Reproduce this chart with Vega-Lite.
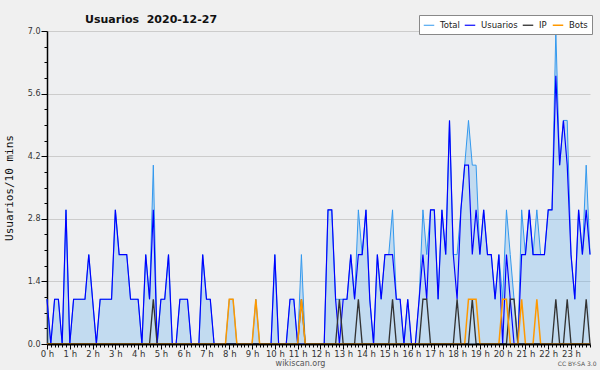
{
"$schema": "https://vega.github.io/schema/vega-lite/v6.json",
"width": 543, "height": 313,
"autosize": {"type": "none"},
"padding": {"left": 47, "top": 31, "right": 10, "bottom": 26},
"background": "#f0f0f0",
"config": {"view": {"fill": "#eeeff1", "stroke": null}, "font": "DejaVu Sans"},
"title": {"text": "Usuarios\u00a0 2020-12-27", "anchor": "start", "frame": "group", "dx": 38, "dy": 28, "offset": 9, "baseline": "alphabetic", "fontSize": 11, "font": "DejaVu Sans", "fontWeight": "bold", "color": "#111111"},
"data": {"values": [
{"min":0,"Total":1,"Usuarios":1,"IP":0,"Bots":0},
{"min":10,"Total":0,"Usuarios":0,"IP":0,"Bots":0},
{"min":20,"Total":1,"Usuarios":1,"IP":0,"Bots":0},
{"min":30,"Total":1,"Usuarios":1,"IP":0,"Bots":0},
{"min":40,"Total":0,"Usuarios":0,"IP":0,"Bots":0},
{"min":50,"Total":3,"Usuarios":3,"IP":0,"Bots":0},
{"min":60,"Total":0,"Usuarios":0,"IP":0,"Bots":0},
{"min":70,"Total":1,"Usuarios":1,"IP":0,"Bots":0},
{"min":80,"Total":1,"Usuarios":1,"IP":0,"Bots":0},
{"min":90,"Total":1,"Usuarios":1,"IP":0,"Bots":0},
{"min":100,"Total":1,"Usuarios":1,"IP":0,"Bots":0},
{"min":110,"Total":2,"Usuarios":2,"IP":0,"Bots":0},
{"min":120,"Total":1,"Usuarios":1,"IP":0,"Bots":0},
{"min":130,"Total":0,"Usuarios":0,"IP":0,"Bots":0},
{"min":140,"Total":1,"Usuarios":1,"IP":0,"Bots":0},
{"min":150,"Total":1,"Usuarios":1,"IP":0,"Bots":0},
{"min":160,"Total":1,"Usuarios":1,"IP":0,"Bots":0},
{"min":170,"Total":1,"Usuarios":1,"IP":0,"Bots":0},
{"min":180,"Total":3,"Usuarios":3,"IP":0,"Bots":0},
{"min":190,"Total":2,"Usuarios":2,"IP":0,"Bots":0},
{"min":200,"Total":2,"Usuarios":2,"IP":0,"Bots":0},
{"min":210,"Total":2,"Usuarios":2,"IP":0,"Bots":0},
{"min":220,"Total":1,"Usuarios":1,"IP":0,"Bots":0},
{"min":230,"Total":1,"Usuarios":1,"IP":0,"Bots":0},
{"min":240,"Total":1,"Usuarios":1,"IP":0,"Bots":0},
{"min":250,"Total":0,"Usuarios":0,"IP":0,"Bots":0},
{"min":260,"Total":2,"Usuarios":2,"IP":0,"Bots":0},
{"min":270,"Total":1,"Usuarios":1,"IP":0,"Bots":0},
{"min":280,"Total":4,"Usuarios":3,"IP":1,"Bots":0},
{"min":290,"Total":0,"Usuarios":0,"IP":0,"Bots":0},
{"min":300,"Total":1,"Usuarios":1,"IP":0,"Bots":0},
{"min":310,"Total":1,"Usuarios":1,"IP":0,"Bots":0},
{"min":320,"Total":2,"Usuarios":2,"IP":0,"Bots":0},
{"min":330,"Total":0,"Usuarios":0,"IP":0,"Bots":0},
{"min":340,"Total":0,"Usuarios":0,"IP":0,"Bots":0},
{"min":350,"Total":1,"Usuarios":1,"IP":0,"Bots":0},
{"min":360,"Total":1,"Usuarios":1,"IP":0,"Bots":0},
{"min":370,"Total":1,"Usuarios":1,"IP":0,"Bots":0},
{"min":380,"Total":0,"Usuarios":0,"IP":0,"Bots":0},
{"min":390,"Total":0,"Usuarios":0,"IP":0,"Bots":0},
{"min":400,"Total":0,"Usuarios":0,"IP":0,"Bots":0},
{"min":410,"Total":2,"Usuarios":2,"IP":0,"Bots":0},
{"min":420,"Total":1,"Usuarios":1,"IP":0,"Bots":0},
{"min":430,"Total":1,"Usuarios":1,"IP":0,"Bots":0},
{"min":440,"Total":0,"Usuarios":0,"IP":0,"Bots":0},
{"min":450,"Total":0,"Usuarios":0,"IP":0,"Bots":0},
{"min":460,"Total":0,"Usuarios":0,"IP":0,"Bots":0},
{"min":470,"Total":0,"Usuarios":0,"IP":0,"Bots":0},
{"min":480,"Total":1,"Usuarios":0,"IP":0,"Bots":1},
{"min":490,"Total":1,"Usuarios":0,"IP":0,"Bots":1},
{"min":500,"Total":0,"Usuarios":0,"IP":0,"Bots":0},
{"min":510,"Total":0,"Usuarios":0,"IP":0,"Bots":0},
{"min":520,"Total":0,"Usuarios":0,"IP":0,"Bots":0},
{"min":530,"Total":0,"Usuarios":0,"IP":0,"Bots":0},
{"min":540,"Total":0,"Usuarios":0,"IP":0,"Bots":0},
{"min":550,"Total":1,"Usuarios":0,"IP":0,"Bots":1},
{"min":560,"Total":0,"Usuarios":0,"IP":0,"Bots":0},
{"min":570,"Total":0,"Usuarios":0,"IP":0,"Bots":0},
{"min":580,"Total":0,"Usuarios":0,"IP":0,"Bots":0},
{"min":590,"Total":0,"Usuarios":0,"IP":0,"Bots":0},
{"min":600,"Total":2,"Usuarios":2,"IP":0,"Bots":0},
{"min":610,"Total":0,"Usuarios":0,"IP":0,"Bots":0},
{"min":620,"Total":0,"Usuarios":0,"IP":0,"Bots":0},
{"min":630,"Total":0,"Usuarios":0,"IP":0,"Bots":0},
{"min":640,"Total":1,"Usuarios":1,"IP":0,"Bots":0},
{"min":650,"Total":1,"Usuarios":1,"IP":0,"Bots":0},
{"min":660,"Total":0,"Usuarios":0,"IP":0,"Bots":0},
{"min":670,"Total":2,"Usuarios":0,"IP":1,"Bots":1},
{"min":680,"Total":0,"Usuarios":0,"IP":0,"Bots":0},
{"min":690,"Total":0,"Usuarios":0,"IP":0,"Bots":0},
{"min":700,"Total":0,"Usuarios":0,"IP":0,"Bots":0},
{"min":710,"Total":0,"Usuarios":0,"IP":0,"Bots":0},
{"min":720,"Total":0,"Usuarios":0,"IP":0,"Bots":0},
{"min":730,"Total":0,"Usuarios":0,"IP":0,"Bots":0},
{"min":740,"Total":3,"Usuarios":3,"IP":0,"Bots":0},
{"min":750,"Total":3,"Usuarios":3,"IP":0,"Bots":0},
{"min":760,"Total":1,"Usuarios":1,"IP":0,"Bots":0},
{"min":770,"Total":1,"Usuarios":0,"IP":1,"Bots":0},
{"min":780,"Total":1,"Usuarios":1,"IP":0,"Bots":0},
{"min":790,"Total":1,"Usuarios":1,"IP":0,"Bots":0},
{"min":800,"Total":2,"Usuarios":2,"IP":0,"Bots":0},
{"min":810,"Total":1,"Usuarios":1,"IP":0,"Bots":0},
{"min":820,"Total":3,"Usuarios":2,"IP":1,"Bots":0},
{"min":830,"Total":2,"Usuarios":2,"IP":0,"Bots":0},
{"min":840,"Total":3,"Usuarios":3,"IP":0,"Bots":0},
{"min":850,"Total":1,"Usuarios":1,"IP":0,"Bots":0},
{"min":860,"Total":0,"Usuarios":0,"IP":0,"Bots":0},
{"min":870,"Total":2,"Usuarios":2,"IP":0,"Bots":0},
{"min":880,"Total":1,"Usuarios":1,"IP":0,"Bots":0},
{"min":890,"Total":2,"Usuarios":2,"IP":0,"Bots":0},
{"min":900,"Total":2,"Usuarios":2,"IP":0,"Bots":0},
{"min":910,"Total":3,"Usuarios":2,"IP":1,"Bots":0},
{"min":920,"Total":1,"Usuarios":1,"IP":0,"Bots":0},
{"min":930,"Total":1,"Usuarios":1,"IP":0,"Bots":0},
{"min":940,"Total":0,"Usuarios":0,"IP":0,"Bots":0},
{"min":950,"Total":1,"Usuarios":1,"IP":0,"Bots":0},
{"min":960,"Total":0,"Usuarios":0,"IP":0,"Bots":0},
{"min":970,"Total":0,"Usuarios":0,"IP":0,"Bots":0},
{"min":980,"Total":1,"Usuarios":1,"IP":0,"Bots":0},
{"min":990,"Total":3,"Usuarios":2,"IP":1,"Bots":0},
{"min":1000,"Total":2,"Usuarios":1,"IP":1,"Bots":0},
{"min":1010,"Total":3,"Usuarios":3,"IP":0,"Bots":0},
{"min":1020,"Total":3,"Usuarios":3,"IP":0,"Bots":0},
{"min":1030,"Total":1,"Usuarios":1,"IP":0,"Bots":0},
{"min":1040,"Total":3,"Usuarios":3,"IP":0,"Bots":0},
{"min":1050,"Total":2,"Usuarios":2,"IP":0,"Bots":0},
{"min":1060,"Total":5,"Usuarios":5,"IP":0,"Bots":0},
{"min":1070,"Total":2,"Usuarios":2,"IP":0,"Bots":0},
{"min":1080,"Total":2,"Usuarios":1,"IP":1,"Bots":0},
{"min":1090,"Total":3,"Usuarios":3,"IP":0,"Bots":0},
{"min":1100,"Total":4,"Usuarios":4,"IP":0,"Bots":0},
{"min":1110,"Total":5,"Usuarios":4,"IP":0,"Bots":1},
{"min":1120,"Total":4,"Usuarios":2,"IP":1,"Bots":1},
{"min":1130,"Total":4,"Usuarios":3,"IP":0,"Bots":1},
{"min":1140,"Total":2,"Usuarios":2,"IP":0,"Bots":0},
{"min":1150,"Total":3,"Usuarios":3,"IP":0,"Bots":0},
{"min":1160,"Total":2,"Usuarios":2,"IP":0,"Bots":0},
{"min":1170,"Total":2,"Usuarios":2,"IP":0,"Bots":0},
{"min":1180,"Total":1,"Usuarios":1,"IP":0,"Bots":0},
{"min":1190,"Total":2,"Usuarios":2,"IP":0,"Bots":0},
{"min":1200,"Total":1,"Usuarios":0,"IP":0,"Bots":1},
{"min":1210,"Total":3,"Usuarios":2,"IP":0,"Bots":1},
{"min":1220,"Total":2,"Usuarios":1,"IP":1,"Bots":0},
{"min":1230,"Total":1,"Usuarios":0,"IP":1,"Bots":0},
{"min":1240,"Total":0,"Usuarios":0,"IP":0,"Bots":0},
{"min":1250,"Total":3,"Usuarios":2,"IP":0,"Bots":1},
{"min":1260,"Total":2,"Usuarios":2,"IP":0,"Bots":0},
{"min":1270,"Total":3,"Usuarios":3,"IP":0,"Bots":0},
{"min":1280,"Total":2,"Usuarios":2,"IP":0,"Bots":0},
{"min":1290,"Total":3,"Usuarios":2,"IP":0,"Bots":1},
{"min":1300,"Total":2,"Usuarios":2,"IP":0,"Bots":0},
{"min":1310,"Total":2,"Usuarios":2,"IP":0,"Bots":0},
{"min":1320,"Total":3,"Usuarios":3,"IP":0,"Bots":0},
{"min":1330,"Total":3,"Usuarios":3,"IP":0,"Bots":0},
{"min":1340,"Total":7,"Usuarios":6,"IP":1,"Bots":0},
{"min":1350,"Total":4,"Usuarios":4,"IP":0,"Bots":0},
{"min":1360,"Total":5,"Usuarios":5,"IP":0,"Bots":0},
{"min":1370,"Total":5,"Usuarios":4,"IP":1,"Bots":0},
{"min":1380,"Total":2,"Usuarios":2,"IP":0,"Bots":0},
{"min":1390,"Total":1,"Usuarios":1,"IP":0,"Bots":0},
{"min":1400,"Total":3,"Usuarios":3,"IP":0,"Bots":0},
{"min":1410,"Total":2,"Usuarios":2,"IP":0,"Bots":0},
{"min":1420,"Total":4,"Usuarios":3,"IP":1,"Bots":0},
{"min":1430,"Total":2,"Usuarios":2,"IP":0,"Bots":0}
]},
"layer": [
{"mark": {"type": "area", "color": "#66b1ee", "opacity": 0.32, "interpolate": "linear"},
 "encoding": {
  "x": {"field": "min", "type": "quantitative", "scale": {"domain": [0, 1430], "nice": false, "zero": false},
   "axis": {"orient": "bottom", "zindex": 1, "values": [0,60,120,180,240,300,360,420,480,540,600,660,720,780,840,900,960,1020,1080,1140,1200,1260,1320,1380],
    "labelExpr": "floor(datum.value/60) + ' h'", "grid": false, "tickSize": 5, "tickColor": "#000000", "domainColor": "#000000", "domainWidth": 2,
    "labelFontSize": 8.5, "labelColor": "#333333", "labelPadding": 0, "labelFlush": false, "labelOverlap": false,
    "title": "wikiscan.org", "titleFontSize": 8, "titleFontWeight": "normal", "titleColor": "#555555", "titleX": 253, "titleY": 21, "titleBaseline": "alphabetic"}},
  "y": {"field": "Total", "type": "quantitative", "scale": {"domain": [0, 7], "nice": false},
   "axis": {"orient": "left", "values": [0, 1.4, 2.8, 4.2, 5.6, 7], "format": ".1f", "grid": true, "gridColor": "#cccccc", "tickSize": 6, "tickColor": "#000000",
    "domainColor": "#000000", "domainWidth": 1.5, "labelFontSize": 8, "labelColor": "#333333", "labelPadding": 1, "labelFlush": false,
    "title": "Usuarios/10 mins", "titleFont": "DejaVu Sans Mono", "titleFontSize": 11, "titleFontWeight": "normal", "titleColor": "#111111", "titlePadding": 13}}
 }},
{"transform": [{"fold": ["Total", "Usuarios", "IP", "Bots"], "as": ["serie", "valor"]}],
 "mark": {"type": "line", "interpolate": "linear"},
 "encoding": {
  "x": {"field": "min", "type": "quantitative",
   "axis": {"orient": "bottom", "tickCount": 143, "labels": false, "domain": false, "grid": false, "tickSize": 3, "tickColor": "#000000",
    "title": "CC BY-SA 3.0", "titleFontSize": 6, "titleFontWeight": "normal", "titleColor": "#555555", "titleX": 549, "titleAlign": "right", "titleY": 21, "titleBaseline": "alphabetic"}},
  "y": {"field": "valor", "type": "quantitative",
   "axis": {"orient": "left", "values": [0.35, 0.7, 1.05, 1.75, 2.1, 2.45, 3.15, 3.5, 3.85, 4.55, 4.9, 5.25, 5.95, 6.3, 6.65], "labels": false, "domain": false, "grid": false, "tickSize": 3, "tickColor": "#000000", "title": null}},
  "color": {"field": "serie", "type": "nominal",
   "scale": {"domain": ["Total", "Usuarios", "IP", "Bots"], "range": ["#3399ee", "#0000ff", "#333333", "#ff9900"]},
   "legend": {"orient": "none", "legendX": 372, "legendY": -16, "direction": "horizontal", "title": null, "symbolType": "stroke", "symbolSize": 110, "symbolStrokeWidth": 1.5,
    "labelFontSize": 8.5, "labelFont": "DejaVu Sans", "labelColor": "#222222", "labelOffset": 5, "columnPadding": 2, "padding": 4, "fillColor": "#ffffff", "strokeColor": "#888888"}},
  "strokeWidth": {"field": "serie", "type": "nominal", "scale": {"domain": ["Total", "Usuarios", "IP", "Bots"], "range": [1, 1.5, 1, 1]}, "legend": null}
 }}
],
"resolve": {"axis": {"x": "independent", "y": "independent"}}
}
